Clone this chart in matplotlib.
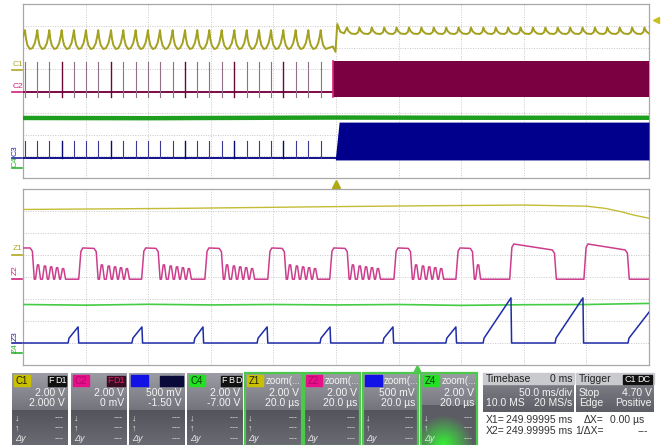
import numpy as np
import matplotlib.pyplot as plt
from matplotlib.patches import Rectangle
from matplotlib.colors import LinearSegmentedColormap

plt.rcParams["font.family"] = ["Liberation Sans", "DejaVu Sans"]

W, H = 664, 445

# -------------------- Main acquisition (ms, divisions) --------------------
spike_t = [-248.4, -238.6, -229.0, -219.1, -209.3, -199.7, -189.9, -179.7, -169.9,
           -160.0, -150.2, -140.6, -130.5, -120.6, -110.8, -101.2, -91.3, -81.2,
           -71.3, -61.5, -51.9, -42.1, -32.2, -22.1, -12.2]
spike_strong = [0, 0, 0, 1, 0, 0, 0, 1, 0, 0, 0, 0, 0, 1, 0, 0, 0, 1, 0, 0, 0, 1, 0, 0, 0]

# one C1 cycle (phase of period, level in div)
c1_shape_phase = [0.0, 0.08, 0.2, 0.4, 0.6, 0.8, 0.93]
c1_shape_level = [2.8, 2.4, 2.1, 1.93, 1.97, 2.2, 2.55]
c1_edge_t = [-2.5, -0.4, 1.0, 3.5, 6.5]
c1_edge_v = [2.05, 1.8, 3.08, 2.72, 2.65]
c1_post_peaks = [8.8, 18.7, 28.6, 38.5, 48.4, 58.3, 68.2, 78.1, 88.0, 97.9, 107.8,
                 117.7, 127.6, 137.5, 147.4, 157.3, 167.2, 177.1, 187.0, 196.9,
                 206.8, 216.7, 226.6, 236.5, 246.4]
c1_post_phase = [0.0, 0.12, 0.35, 0.7, 0.9]
c1_post_level = [2.92, 2.75, 2.64, 2.62, 2.7]

c2_base, c2_spike_hi, c2_spike_lo = -0.05, 1.33, -0.28
c2_burst_t = [-2.4, 250.0]
c2_burst_hi, c2_burst_lo = 1.38, -0.28

c3_base, c3_spike_hi = -3.08, -2.3
c3_burst_t = [-0.5, 2.5, 250.0]
c3_burst_hi = [-3.08, -1.43, -1.43]
c3_burst_lo = -3.17

c4_t = [-250, -150, -50, 0, 100, 250]
c4_v = [-1.24, -1.25, -1.23, -1.22, -1.23, -1.23]

# -------------------- Zoom window (us, divisions) --------------------
z1_t = [-100, -50, 0, 30, 60, 80, 86, 91, 95, 100]
z1_v = [3.07, 3.12, 3.2, 3.24, 3.27, 3.22, 3.12, 2.97, 2.82, 2.67]

z2_base = -0.1
z2_rise = [-81.8, -61.7, -41.5, -21.4, -1.6, 18.9, 38.7, 55.9, 79.6]
z2_fall = [-96.8, -76.4, -56.6, -36.4, -16.3, 3.8, 24.0, 43.8, 70.0, 93.3]
z2_top_start = [1.32, 1.32, 1.32, 1.32, 1.32, 1.32, 1.32, 1.5, 1.5]
z2_top_end = [1.32, 1.3, 1.3, 1.3, 1.3, 1.3, 1.3, 1.3, 1.23, 1.23]
z2_humps = [5, 5, 5, 5, 5, 5, 5, 1, 0, 0]
hump_off = [1.6, 3.8, 5.8, 7.7, 9.6]
hump_lv = [0.55, 0.5, 0.46, 0.42, 0.38]

z3_base = -3.0
z3_start = [-85.6, -65.2, -45.4, -25.2, -5.1, 15.0, 35.1, 47.0, 70.0, 93.3]
z3_end = [-82.4, -62.0, -42.5, -22.0, -1.9, 18.2, 38.3, 55.9, 78.9, 100.0]
z3_peak = [-2.27, -2.27, -2.27, -2.27, -2.27, -2.27, -2.27, -0.95, -0.95, -1.6]

z4_t = [-100, -80, -60, -40, -20, 0, 20, 40, 60, 80, 100]
z4_v = [-1.25, -1.28, -1.24, -1.27, -1.25, -1.27, -1.25, -1.29, -1.26, -1.25, -1.2]


def px_rect(x0, y0, x1, y1):
    return [x0 / W, 1 - y1 / H, (x1 - x0) / W, (y1 - y0) / H]


def graticule(ax, xmax):
    ax.set_xlim(-xmax, xmax)
    ax.set_ylim(-4, 4)
    ax.set_xticks([])
    ax.set_yticks([])
    for k in range(1, 10):
        ax.axvline(-xmax + k * xmax / 5, color="#c8c8c8", lw=0.7, ls=(0, (1, 1.5)), zorder=0)
    for k in range(-3, 4):
        ax.axhline(k, color="#c8c8c8", lw=0.7, ls=(0, (1, 1.5)), zorder=0)
    for s in ax.spines.values():
        s.set_color("#a8a8a8")
        s.set_linewidth(0.9)


fig = plt.figure(figsize=(W / 100, H / 100), dpi=100)
ui = fig.add_axes([0, 0, 1, 1], zorder=0)
ui.set_xlim(0, W)
ui.set_ylim(H, 0)
ui.axis("off")

ax_top = fig.add_axes(px_rect(23, 4, 649, 178), zorder=1)
ax_bot = fig.add_axes(px_rect(23, 189, 649, 365), zorder=1)
graticule(ax_top, 250)
graticule(ax_bot, 100)

# -------------------- Top panel --------------------
t, v = [-250.0], [2.5]
for i, p in enumerate(spike_t):
    period = spike_t[i + 1] - p if i + 1 < len(spike_t) else 9.9
    n = len(c1_shape_phase) if i + 1 < len(spike_t) else 5
    for ph, lv in zip(c1_shape_phase[:n], c1_shape_level[:n]):
        t.append(p + ph * period)
        v.append(lv)
t += c1_edge_t
v += c1_edge_v
for i, p in enumerate(c1_post_peaks):
    period = c1_post_peaks[i + 1] - p if i + 1 < len(c1_post_peaks) else 9.9
    for ph, lv in zip(c1_post_phase, c1_post_level):
        if p + ph * period <= 250:
            t.append(p + ph * period)
            v.append(lv)
t.append(250.0)
v.append(2.64)
ax_top.plot(t, v, color="#a4a020", lw=1.4, zorder=4)

# C4 green band
ax_top.plot(c4_t, c4_v, color="#1e9e1e", lw=3.2, zorder=3)

# C2 spikes + burst
ax_top.plot([-250, c2_burst_t[0]], [c2_base, c2_base], color="#7c0a46", lw=1.4, zorder=3)
for st, strong in zip(spike_t, spike_strong):
    ax_top.plot([st, st], [c2_spike_lo, c2_spike_hi],
                color="#6a0838" if strong else "#8e7088", lw=1.0 if strong else 0.8, zorder=3)
ax_top.fill_between(c2_burst_t, c2_burst_lo, c2_burst_hi, color="#7a0042", lw=0, zorder=3)
ax_top.plot([c2_burst_t[0], c2_burst_t[0]], [c2_burst_lo, c2_burst_hi], color="#e0207a", lw=1.2, zorder=3)

# C3 spikes + burst
ax_top.plot([-250, c3_burst_t[0]], [c3_base, c3_base], color="#10108a", lw=1.4, zorder=3)
for st, strong in zip(spike_t, spike_strong):
    ax_top.plot([st, st], [c3_base, c3_spike_hi],
                color="#0a0a70" if strong else "#3a3a90", lw=1.0 if strong else 0.8, zorder=3)
ax_top.fill_between(c3_burst_t, c3_burst_lo, c3_burst_hi, color="#00008c", lw=0, zorder=3)

# -------------------- Bottom panel --------------------
ax_bot.plot(z1_t, z1_v, color="#c4bc36", lw=1.0, zorder=3)
ax_bot.plot(z4_t, z4_v, color="#44cc44", lw=1.2, zorder=3)

t, v = [-100.0], [z2_top_end[0]]
for i, f in enumerate(z2_fall):
    te = z2_top_end[i]
    t += [f - 0.9, f - 0.2, f + 0.4]
    v += [te, te - 0.15, z2_base]
    for k in range(z2_humps[i]):
        c = f + hump_off[k]
        t += [c - 0.8, c - 0.2, c + 0.2, c + 0.8]
        v += [z2_base, hump_lv[k], hump_lv[k], z2_base]
    if i < len(z2_rise):
        r = z2_rise[i]
        ts = z2_top_start[i]
        t += [r - 0.4, r + 0.3, r + 0.9]
        v += [z2_base, ts - 0.15, ts]
t.append(100.0)
v.append(z2_base)
ax_bot.plot(t, v, color="#cc3d8c", lw=1.1, zorder=4)

t, v = [-100.0], [z3_base]
for s, e, pk in zip(z3_start, z3_end, z3_peak):
    t += [s, s + 0.3, e]
    v += [z3_base, z3_base + 0.22, pk]
    if e < 100:
        t.append(e + 0.2)
        v.append(z3_base)
if t[-1] < 100:
    t.append(100.0)
    v.append(z3_base)
ax_bot.plot(t, v, color="#1e2ca8", lw=1.1, zorder=4)

# -------------------- Left channel markers --------------------
marks = [("C1", 13, 65, 70, "#b0a820", 0), ("C2", 13, 86, 92, "#d0207a", 0),
         ("C3", 15, 151, 158, "#2020a0", 90), ("C4", 15, 162, 168, "#30b030", 90),
         ("Z1", 13, 249, 255, "#b0a820", 0), ("Z2", 15, 270, 279, "#d0207a", 90),
         ("Z3", 15, 336, 343, "#2020a0", 90), ("Z4", 15, 348, 353, "#30b030", 90)]
for lab, x, y, ym, col, rot in marks:
    ui.text(x, y, lab, color=col, fontsize=6, rotation=rot, ha="left" if rot == 0 else "center",
            va="center")
    ui.plot([12, 22], [ym, ym], color=col, lw=1.2)

ui.plot(336, 184, marker="^", color="#b0aa10", ms=6)
ui.plot(417, 368.5, marker="^", color="#4cc84c", ms=6)
ui.plot(656, 20, marker="<", color="#c8c020", ms=5)

# -------------------- Info bar --------------------
top_cmap = LinearSegmentedColormap.from_list("t", ["#9c9da4", "#74757c"])
low_cmap = LinearSegmentedColormap.from_list("l", ["#54555c", "#6a6b72"])
grad = np.linspace(0, 1, 32).reshape(-1, 1)


def grad_rect(x0, x1, y0, y1, cmap):
    ui.imshow(grad, cmap=cmap, extent=(x0, x1, y1, y0), aspect="auto", origin="upper",
              interpolation="bilinear", zorder=1)


boxes = [
    (12, 68, "C1", "#c8c000", "#202000", ["F", "D1"], "#111111", "#ffffff", "2.00 V", "2.000 V", False),
    (71, 127, "C2", "#e8108a", "#b0086a", ["F", "D1"], "#3a0c22", "#e0207a", "2.00 V", "0 mV", False),
    (129, 185, "", "#1212e6", "#1212e6", ["", ""], "#0a0a3a", "#2020d0", "500 mV", "-1.50 V", False),
    (187, 243, "C4", "#22e022", "#0a3a0a", ["F", "B", "D"], "#111111", "#ffffff", "2.00 V", "-7.00 V", False),
    (245, 302, "Z1", "#c8c000", "#202000", None, None, None, "2.00 V", "20.0 µs", True),
    (304, 360, "Z2", "#e8108a", "#b0086a", None, None, None, "2.00 V", "20.0 µs", True),
    (363, 418, "", "#1212e6", "#1212e6", None, None, None, "500 mV", "20.0 µs", True),
    (421, 477, "Z4", "#22e022", "#0a3a0a", None, None, None, "2.00 V", "20.0 µs", True),
]
for x0, x1, tag, tbg, tfg, badges, bbg, bfg, l1, l2, zoom in boxes:
    grad_rect(x0, x1, 373, 410, top_cmap)
    grad_rect(x0, x1, 410, 445, low_cmap)
    ui.add_patch(Rectangle((x0 + 2, 375), 16 if tag else 17, 11, color=tbg, zorder=2))
    if tag:
        ui.text(x0 + 3.5, 380.8, tag, color=tfg, fontsize=7, va="center", zorder=3)
    if badges:
        bx = x1 - 2
        for b in reversed(badges):
            bw = 6 if len(b) == 1 else 11
            ui.add_patch(Rectangle((bx - bw, 375.5), bw, 10, color=bbg, zorder=2))
            ui.text(bx - bw / 2, 380.8, b, color=bfg, fontsize=6.5, ha="center", va="center", zorder=3)
            bx -= bw + 1
    if zoom:
        ui.text(x0 + 21, 380.8, "zoom(...", color="#f4f4f4", fontsize=7, va="center", zorder=3)
        ui.add_patch(Rectangle((x0, 373), x1 - x0, 73, fill=False, ec="#4cc84c", lw=1.6, zorder=4))
    ui.text(x1 - 3, 392.5, l1, color="#f4f4f4", fontsize=7.5, ha="right", va="center", zorder=3)
    ui.text(x1 - 3, 403.5, l2, color="#f4f4f4", fontsize=7.5, ha="right", va="center", zorder=3)
    for lab, yy in [("↓", 418), ("↑", 428), ("Δy", 438.5)]:
        ui.text(x0 + 3, yy, lab, color="#e8e8e8", fontsize=6.5, va="center", zorder=3,
                style="italic" if lab == "Δy" else "normal")
        ui.text(x1 - 4, yy, "---", color="#d8d8d8", fontsize=6.5, ha="right", va="center", zorder=3)

# green glow in Z4 box
gy, gx = np.mgrid[0:40, 0:56]
glow = np.clip(1 - np.hypot((gx - 22) / 30, (gy - 40) / 30), 0, 1)
glow_cmap = LinearSegmentedColormap.from_list("g", ["#5c5d64", "#36f036"])
ui.imshow(glow, cmap=glow_cmap, extent=(421, 477, 445, 405), aspect="auto", origin="upper",
          interpolation="bilinear", zorder=1.5)

# timebase and trigger boxes
for x0, x1 in [(483, 574), (576, 654)]:
    ui.add_patch(Rectangle((x0, 373), x1 - x0, 11, color="#c9cacd", zorder=2))
    grad_rect(x0, x1, 384, 412, LinearSegmentedColormap.from_list("b", ["#7c7d84", "#5e5f66"]))
ui.text(486, 379, "Timebase", color="#202020", fontsize=7.5, va="center", zorder=3)
ui.text(572, 379, "0 ms", color="#202020", fontsize=7.5, ha="right", va="center", zorder=3)
ui.text(572, 392.5, "50.0 ms/div", color="#f4f4f4", fontsize=7.5, ha="right", va="center", zorder=3)
ui.text(486, 403.5, "10.0 MS", color="#f4f4f4", fontsize=7.5, va="center", zorder=3)
ui.text(572, 403.5, "20 MS/s", color="#f4f4f4", fontsize=7.5, ha="right", va="center", zorder=3)
ui.text(579, 379, "Trigger", color="#202020", fontsize=7.5, va="center", zorder=3)
ui.add_patch(Rectangle((623, 374.5), 29, 9.5, color="#111111", zorder=2))
ui.text(630, 379.3, "C1", color="#ffffff", fontsize=6.5, ha="center", va="center", zorder=3)
ui.text(644, 379.3, "DC", color="#ffffff", fontsize=6.5, ha="center", va="center", zorder=3)
ui.text(579, 392.5, "Stop", color="#f4f4f4", fontsize=7.5, va="center", zorder=3)
ui.text(652, 392.5, "4.70 V", color="#f4f4f4", fontsize=7.5, ha="right", va="center", zorder=3)
ui.text(579, 403.5, "Edge", color="#f4f4f4", fontsize=7.5, va="center", zorder=3)
ui.text(652, 403.5, "Positive", color="#f4f4f4", fontsize=7.5, ha="right", va="center", zorder=3)

# cursor readout
for yy, xl, val, rl, rv in [(420, "X1=", "249.99995 ms", "ΔX=", "0.00 µs"),
                            (431, "X2=", "249.99995 ms", "1/ΔX=", "---")]:
    ui.text(486, yy, xl, color="#333333", fontsize=7.5, va="center")
    ui.text(506, yy, val, color="#333333", fontsize=7.5, va="center")
    ui.text(604, yy, rl, color="#333333", fontsize=7.5, ha="right", va="center")
    ui.text(644 if rv != "---" else 648, yy, rv, color="#333333", fontsize=7.5, ha="right", va="center")

fig.savefig("out.png", dpi=100)
